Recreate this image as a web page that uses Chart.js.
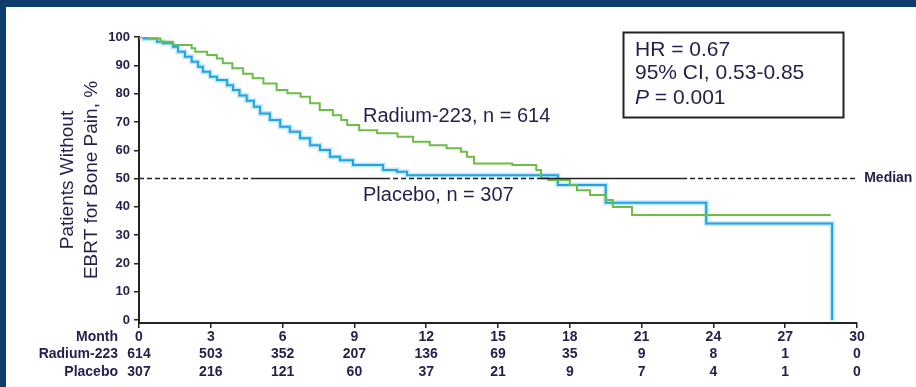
<!DOCTYPE html>
<html>
<head>
<meta charset="utf-8">
<script src="https://cdn.jsdelivr.net/npm/chart.js@4.4.1/dist/chart.umd.min.js"></script>
<style>
  html, body { margin: 0; padding: 0; background: #fff; overflow: hidden; }
  #wrap { position: relative; width: 916px; height: 387px; }
  #kmChart { position: absolute; left: 0; top: 0; }
  .band { position: absolute; background: #0d3d6d; }
</style>
</head>
<body>
<div id="wrap">
  <canvas id="kmChart" width="916" height="387"></canvas>
  <div class="band" style="left:0;top:0;width:916px;height:7px"></div>
  <div class="band" style="left:0;top:0;width:6px;height:387px"></div>
</div>
<script>
// months shown on the x axis and the numbers at risk under each
const months = [0, 3, 6, 9, 12, 15, 18, 21, 24, 27, 30];
const atRiskRadium = [614, 503, 352, 207, 136, 69, 35, 9, 8, 1, 0];
const atRiskPlacebo = [307, 216, 121, 60, 37, 21, 9, 7, 4, 1, 0];
const yTicks = [0, 10, 20, 30, 40, 50, 60, 70, 80, 90, 100];

// Kaplan-Meier steps (month, % without EBRT)
const radiumTime = [0, 0.4, 0.9, 1.4, 2.2, 2.35, 2.85, 3.25, 3.5, 3.9, 4.35, 4.75, 5.2, 5.75, 6.2, 6.75, 7.15, 7.55, 8.1, 8.45, 8.7, 9.2, 9.95, 10.8, 11.45, 12.15, 12.85, 13.45, 13.7, 14.0, 15.6, 16.6, 16.8, 17.1, 18.0, 18.3, 18.85, 19.5, 19.8, 20.6, 28.9];
const radiumSurv = [100, 99.5, 98.3, 97.2, 96, 94.8, 93.6, 92.4, 90.7, 89, 87, 85.4, 83.6, 81.3, 80.1, 78.9, 76.6, 74.2, 72.4, 70.7, 68.9, 67.1, 66, 64.8, 63, 61.8, 60.7, 59.5, 57.7, 55.3, 54.8, 53, 50.1, 49.5, 47.7, 45.9, 44.2, 42.4, 40, 37.1, 37.1];

const placeboTime = [0, 0.2, 0.75, 1.0, 1.42, 1.63, 1.92, 2.2, 2.47, 2.67, 2.97, 3.26, 3.68, 3.93, 4.2, 4.5, 4.8, 5.06, 5.47, 5.9, 6.3, 6.73, 7.15, 7.56, 7.98, 8.4, 8.94, 10.2, 10.78, 11.2, 17.5, 19.5, 23.7, 28.96];
const placeboSurv = [100, 99.5, 98.3, 97.8, 96.6, 94.8, 93, 91.3, 89.5, 87.7, 86, 84.8, 83, 81.3, 79.3, 77.5, 75.4, 73, 70.7, 68.3, 66.5, 64.2, 61.8, 60.1, 57.7, 56.5, 54.8, 53, 52.4, 51.2, 47.7, 41.5, 34.1, 0];

// the 50% reference line switches between dashed and solid at these months
const medianBreaks = [0, 4.85, 10.28, 16.76, 22.69, 30];

const FONT = "'Liberation Sans', Arial, sans-serif";
const INK = "#221f4c";

const toPoints = (xs, ys) => xs.map((x, i) => ({ x: x, y: ys[i] }));

const textPlugin = {
  id: "kmText",
  afterDraw(chart) {
    const c = chart.ctx;
    const xs = chart.scales.x;
    const ys = chart.scales.y;
    const area = chart.chartArea;
    c.save();
    c.fillStyle = INK;
    c.textBaseline = "middle";

    // curve labels
    c.font = "20px " + FONT;
    c.textAlign = "left";
    c.fillText("Radium-223, n = 614", xs.getPixelForValue(9.36), ys.getPixelForValue(71.8));
    c.fillText("Placebo, n = 307", xs.getPixelForValue(9.36), ys.getPixelForValue(44.2));

    // median label
    c.font = "bold 14px " + FONT;
    c.fillText("Median", xs.getPixelForValue(30.3), ys.getPixelForValue(50));

    // stats box
    c.strokeStyle = "#222";
    c.lineWidth = 2;
    c.strokeRect(623.5, 32.5, 220, 85);
    c.font = "21px " + FONT;
    c.fillText("HR = 0.67", 635, 50);
    c.fillText("95% CI, 0.53-0.85", 635, 73);
    c.font = "italic 21px " + FONT;
    c.fillText("P", 635, 98);
    const pw = c.measureText("P").width;
    c.font = "21px " + FONT;
    c.fillText(" = 0.001", 635 + pw, 98);

    // row labels of the at-risk table
    c.font = "bold 14px " + FONT;
    c.textAlign = "right";
    const lh = 17.5;
    const y0 = area.bottom + 5 + lh / 2;
    ["Month", "Radium-223", "Placebo"].forEach((t, i) => {
      c.fillText(t, 118, y0 + i * lh);
    });
    c.restore();
  }
};

const ctx = document.getElementById("kmChart").getContext("2d");
new Chart(ctx, {
  type: "line",
  data: {
    datasets: [
      {
        label: "Median",
        data: medianBreaks.map((x) => ({ x: x, y: 50 })),
        borderColor: "#222",
        borderWidth: 1.5,
        pointRadius: 0,
        segment: {
          borderDash: (s) => (s.p0DataIndex % 2 === 0 ? [5, 3] : undefined),
        },
        order: 0,
      },
      {
        label: "Radium-223",
        data: toPoints(radiumTime, radiumSurv),
        borderColor: "#6cbd45",
        borderWidth: 2,
        stepped: "before",
        pointRadius: 0,
        order: 1,
      },
      {
        label: "Placebo",
        data: toPoints(placeboTime, placeboSurv),
        borderColor: "#1ea6e2",
        borderWidth: 2,
        stepped: "before",
        pointRadius: 0,
        order: 2,
      },
      {
        label: "Placebo glow",
        data: toPoints(placeboTime, placeboSurv),
        borderColor: "rgba(120, 200, 240, 0.45)",
        borderWidth: 5,
        stepped: "before",
        pointRadius: 0,
        order: 3,
      },
    ],
  },
  options: {
    responsive: false,
    animation: false,
    devicePixelRatio: 1,
    layout: { padding: { left: 56, top: 37, right: 59, bottom: 0 } },
    plugins: {
      legend: { display: false },
      tooltip: { enabled: false },
    },
    scales: {
      x: {
        type: "linear",
        min: 0,
        max: 30,
        afterBuildTicks: (scale) => {
          scale.ticks = months.map((v) => ({ value: v }));
        },
        afterFit: (scale) => {
          scale.height = 64;
        },
        ticks: {
          autoSkip: false,
          maxRotation: 0,
          padding: 0,
          color: INK,
          font: { family: FONT, size: 14, weight: "bold", lineHeight: 1.25 },
          callback: (v) => {
            const i = months.indexOf(v);
            return [String(v), String(atRiskRadium[i]), String(atRiskPlacebo[i])];
          },
        },
        grid: { display: true, drawOnChartArea: false, drawTicks: true, tickLength: 5, color: "#222", lineWidth: 1.5 },
        border: { display: true, color: "#222", width: 2 },
      },
      y: {
        type: "linear",
        min: -1,
        max: 100,
        afterBuildTicks: (scale) => {
          scale.ticks = yTicks.map((v) => ({ value: v }));
        },
        afterFit: (scale) => {
          scale.width = 83;
        },
        ticks: {
          padding: 4,
          color: INK,
          font: { family: FONT, size: 13, weight: "bold" },
        },
        grid: { display: true, drawOnChartArea: false, drawTicks: true, tickLength: 5, color: "#222", lineWidth: 1.5 },
        border: { display: true, color: "#222", width: 2 },
        title: {
          display: true,
          text: ["Patients Without", "EBRT for Bone Pain, %"],
          color: INK,
          padding: 0,
          font: { family: FONT, size: 19, lineHeight: 1.26 },
        },
      },
    },
  },
  plugins: [textPlugin],
});
</script>
</body>
</html>
